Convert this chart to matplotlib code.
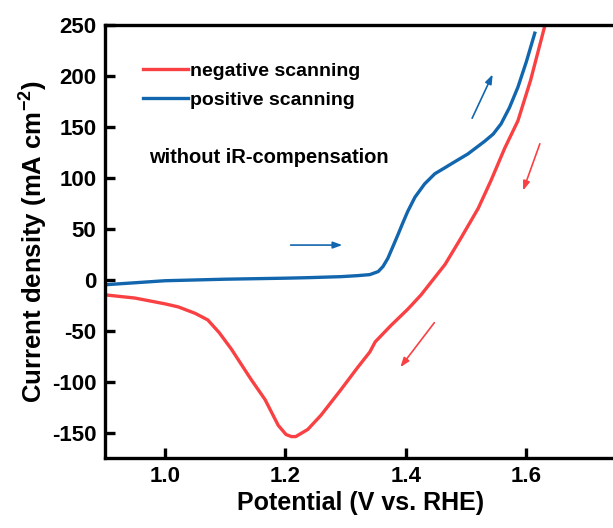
import matplotlib
matplotlib.use("Agg")
import matplotlib.pyplot as plt

plt.rcParams["font.family"] = ["Liberation Sans", "DejaVu Sans"]
plt.rcParams["font.weight"] = "bold"
plt.rcParams["axes.unicode_minus"] = False
plt.rcParams["mathtext.default"] = "bf"

# negative scan (red)
neg_v = [0.899, 0.950, 1.000, 1.022, 1.050, 1.071, 1.090, 1.110, 1.143, 1.166, 1.188,
         1.201, 1.210, 1.217, 1.237, 1.259, 1.292, 1.320, 1.340, 1.349, 1.375, 1.403,
         1.425, 1.445, 1.465, 1.491, 1.520, 1.541, 1.564, 1.586, 1.607, 1.631]
neg_j = [-14.8, -18, -23.7, -26.7, -33, -39.5, -52, -68, -98, -117.6, -143,
         -152, -154, -154, -147, -133, -108, -86, -71, -61, -45, -29,
         -15, 0, 15, 40.5, 70, 97, 129, 156, 195.7, 250]

# positive scan (blue)
pos_v = [0.899, 0.950, 1.000, 1.100, 1.200, 1.237, 1.292, 1.320, 1.340, 1.354, 1.362,
         1.370, 1.378, 1.387, 1.395, 1.403, 1.415, 1.431, 1.448, 1.465, 1.475, 1.503,
         1.531, 1.545, 1.558, 1.572, 1.586, 1.600, 1.614]
pos_j = [-5, -3, -1, 0.5, 1.5, 2, 3, 4, 5, 8, 13,
         21, 32, 44.5, 56, 67, 81, 94, 104, 110, 113.6, 123.5,
         136, 143, 153, 169, 189, 214, 242]

RED = "#F94144"
BLUE = "#1266AE"

fig = plt.figure(figsize=(6.13, 5.28), dpi=100)
ax = fig.add_axes([0.171, 0.1326, 0.835, 0.82])

ax.plot(neg_v, neg_j, color=RED, lw=2.4, label="negative scanning",
        solid_joinstyle="round")
ax.plot(pos_v, pos_j, color=BLUE, lw=2.4, label="positive scanning",
        solid_joinstyle="round")

# scan direction arrows
arrow_kw = dict(arrowstyle="-|>,head_length=0.55,head_width=0.2", lw=1.2)
ax.annotate("", xy=(1.299, 34), xytext=(1.204, 34),
            arrowprops=dict(color=BLUE, **arrow_kw))
ax.annotate("", xy=(1.546, 204), xytext=(1.508, 156),
            arrowprops=dict(color=BLUE, **arrow_kw))
ax.annotate("", xy=(1.593, 85), xytext=(1.624, 136),
            arrowprops=dict(color=RED, **arrow_kw))
ax.annotate("", xy=(1.388, -88), xytext=(1.450, -40),
            arrowprops=dict(color=RED, **arrow_kw))

ax.set_xlim(0.9, 1.75)
ax.set_ylim(-175, 250)
ax.set_xticks([1.0, 1.2, 1.4, 1.6])
ax.set_yticks([-150, -100, -50, 0, 50, 100, 150, 200, 250])

for side in ["left", "bottom", "top", "right"]:
    ax.spines[side].set_linewidth(2.4)
ax.tick_params(direction="in", length=7, width=2.4, labelsize=16, pad=6)

ax.set_xlabel("Potential (V vs. RHE)", fontsize=18, fontweight="bold", labelpad=3)
ax.set_ylabel("Current density (mA cm$^{\\mathregular{-2}}$)", fontsize=18.5,
              fontweight="bold", labelpad=2)

ax.legend(loc="upper left", bbox_to_anchor=(0.04, 0.955), frameon=False,
          fontsize=14, handlelength=2.3, handletextpad=0.15, labelspacing=0.62)
ax.text(0.087, 0.682, "without iR-compensation", transform=ax.transAxes,
        fontsize=14.5, fontweight="bold")

fig.savefig("out.png", dpi=100)
